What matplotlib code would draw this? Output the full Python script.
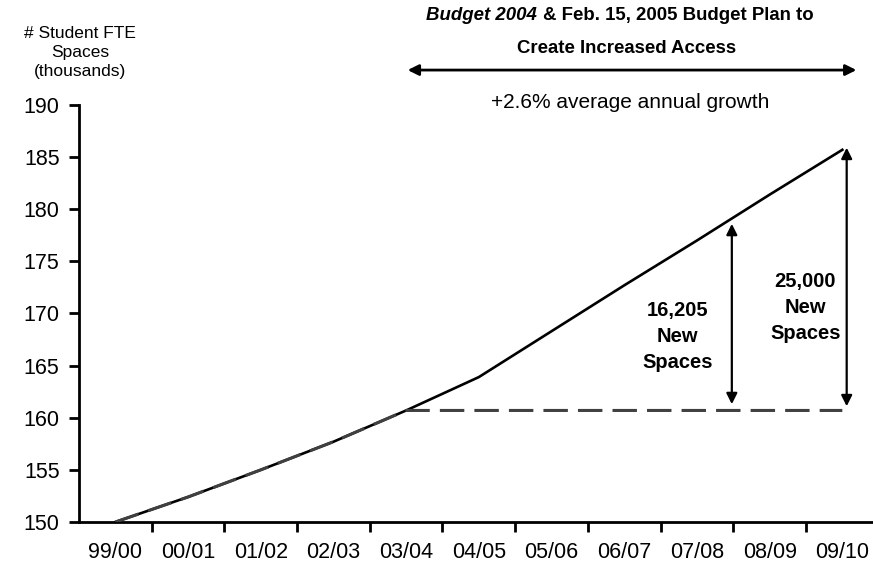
import matplotlib
matplotlib.use('Agg')
import matplotlib.pyplot as plt

plt.rcParams['font.family'] = ['Liberation Sans', 'DejaVu Sans']

# Dados (milhares de vagas FTE)
anos = ['99/00', '00/01', '01/02', '02/03', '03/04', '04/05',
        '05/06', '06/07', '07/08', '08/09', '09/10']
plano = [150.0, 152.4, 155.0, 157.7, 160.7, 163.9, 168.3, 172.7, 177.0, 181.4, 185.7]
base = [150.0, 152.4, 155.0, 157.7, 160.7, 160.7, 160.7, 160.7, 160.7, 160.7, 160.7]
novas_07_08 = '16,205'
novas_09_10 = '25,000'

fig = plt.figure(figsize=(8.73, 5.65), dpi=100)
ax = fig.add_axes([0.0905, 0.0761, 0.916, 0.7381])

x = list(range(len(anos)))
ax.plot(x, plano, color='black', linewidth=1.9, zorder=3)
ax.plot(x, base, color='#404040', linewidth=2.2, dashes=(8, 3.3), zorder=4)

ax.set_xlim(-0.5, len(anos) - 0.5)
ax.set_ylim(150, 190)
ax.set_yticks(range(150, 191, 5))
ax.set_xticks(x)
ax.set_xticklabels(anos)
ax.set_xticks([i + 0.5 for i in x[:-1]], minor=True)
ax.tick_params(axis='x', which='major', length=0, pad=14.5, labelsize=15.5)
ax.tick_params(axis='x', which='minor', length=7, width=2, direction='out')
ax.tick_params(axis='y', length=7, width=2, direction='out', pad=7, labelsize=15.5)
for lado in ['top', 'right']:
    ax.spines[lado].set_visible(False)
for lado in ['left', 'bottom']:
    ax.spines[lado].set_linewidth(2)

# Setas de novas vagas
seta = dict(arrowstyle='<|-|>', color='black', lw=1.6, mutation_scale=16, shrinkA=0, shrinkB=0)
ax.annotate('', xy=(8.48, 178.6), xytext=(8.48, 161.3), arrowprops=seta)
ax.annotate('', xy=(10.06, 185.9), xytext=(10.06, 161.1), arrowprops=seta)
ax.text(7.73, 167.8, novas_07_08 + '\nNew\nSpaces', ha='center', va='center',
        fontsize=14.5, fontweight='bold', linespacing=1.47)
ax.text(9.49, 170.6, novas_09_10 + '\nNew\nSpaces', ha='center', va='center',
        fontsize=14.5, fontweight='bold', linespacing=1.47)

# Cabeçalho
fig.text(0.0916, 0.907, '# Student FTE\nSpaces\n(thousands)', ha='center', va='center',
         fontsize=12.5, linespacing=1.3)
fig.text(0.615, 0.9646, 'Budget 2004', ha='right', va='baseline', fontsize=13.4,
         fontweight='bold', style='italic')
fig.text(0.622, 0.9646, '& Feb. 15, 2005 Budget Plan to', ha='left', va='baseline',
         fontsize=13.4, fontweight='bold')
fig.text(0.7176, 0.9057, 'Create Increased Access', ha='center', va='baseline',
         fontsize=13.4, fontweight='bold')
fig.patches.append(matplotlib.patches.FancyArrowPatch(
    (0.467, 0.876), (0.981, 0.876), transform=fig.transFigure, arrowstyle='<|-|>',
    color='black', lw=2, mutation_scale=16, shrinkA=0, shrinkB=0))
fig.text(0.7216, 0.809, '+2.6% average annual growth', ha='center', va='baseline', fontsize=15)

fig.savefig('out.png', dpi=100)
